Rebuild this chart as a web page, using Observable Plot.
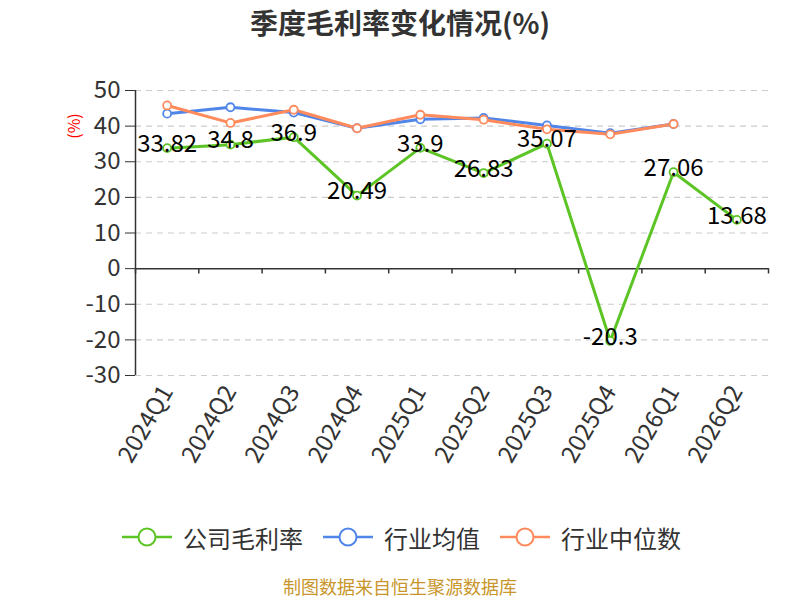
<!DOCTYPE html>
<html>
<head>
<meta charset="utf-8">
<script src="https://cdn.jsdelivr.net/npm/d3@7"></script>
<script src="https://cdn.jsdelivr.net/npm/@observablehq/plot@0.6"></script>
<style>
  body { margin: 0; width: 800px; height: 600px; background: #fff; position: relative; overflow: hidden;
         font-family: "Noto Sans CJK SC", "Noto Sans", sans-serif; }
  #title { position: absolute; left: 0; top: 0; width: 800px; height: 44px; line-height: 44px; text-align: center;
           font-size: 28px; font-weight: bold; color: #333; }
  #chart { position: absolute; left: 0; top: 50px; }
  #unit { position: absolute; left: 60px; top: 114px; color: red; font-size: 16px; transform: rotate(-90deg); transform-origin: center; width: 26px; text-align:center; }
  .leg { position: absolute; top: 520px; height: 34px; display: flex; align-items: center; font-size: 24px; color: #333; white-space: nowrap; }
  .leg svg { margin-right: 11px; }
  #caption { position: absolute; left: 0; top: 576px; width: 800px; height: 20px; line-height: 20px; text-align: center; font-size: 18px; color: #c8962a; }
</style>
</head>
<body>
<div id="title">季度毛利率变化情况(%)</div>
<div id="unit">(%)</div>
<div id="chart"></div>
<div id="legend"></div>
<div id="caption">制图数据来自恒生聚源数据库</div>
<script>
const quarters = ["2024Q1","2024Q2","2024Q3","2024Q4","2025Q1","2025Q2","2025Q3","2025Q4","2026Q1","2026Q2"];
const company = [33.82, 34.8, 36.9, 20.49, 33.9, 26.83, 35.07, -20.3, 27.06, 13.68];
const industryAvg = [43.5, 45.3, 43.8, 39.4, 41.9, 42.3, 40.2, 38.0, 40.6, null];
const industryMedian = [45.8, 40.9, 44.6, 39.4, 43.2, 41.8, 39.1, 37.7, 40.6, null];
const yTicks = [-30, -20, -10, 0, 10, 20, 30, 40, 50];
const seriesNames = ["公司毛利率", "行业均值", "行业中位数"];
const seriesColors = ["#5cc424", "#5085ea", "#ff8a5c"];

const idx = quarters.map((_, i) => i);
const boundaries = quarters.map((_, i) => i - 0.5).concat([quarters.length - 0.5]);
const mk = (arr, s) => arr.map((v, i) => ({i, q: quarters[i], v, s})).filter(d => d.v != null);
const rowsC = mk(company, seriesNames[0]);
const rowsA = mk(industryAvg, seriesNames[1]);
const rowsM = mk(industryMedian, seriesNames[2]);

const chart = Plot.plot({
  width: 800, height: 460,
  marginLeft: 135, marginRight: 32, marginTop: 40, marginBottom: 135,
  x: {type: "linear", domain: [-0.5, quarters.length - 0.5], axis: null},
  y: {domain: [-30, 50], axis: null},
  style: {fontFamily: '"Noto Sans CJK SC", "Noto Sans", sans-serif', fontSize: "24px", color: "#333", background: "transparent", overflow: "visible"},
  marks: [
    Plot.ruleY(yTicks.filter(t => t !== 0), {stroke: "#ccc", strokeDasharray: "6,5", strokeWidth: 1.2}),
    Plot.axisY(yTicks, {tickSize: 10, tickPadding: 5, tickFormat: d => String(d), stroke: "#333", fill: "#333", fontSize: 24, label: null}),
    Plot.ruleX([-0.5], {y1: -30, y2: 50, stroke: "#333", strokeWidth: 1.5}),
    Plot.ruleY([0], {stroke: "#333", strokeWidth: 1.5}),
    Plot.ruleX(boundaries, {y1: 0, y2: -1.5, stroke: "#333", strokeWidth: 1.5}),
    Plot.axisX(idx, {tickFormat: i => quarters[i], tickRotate: -60, tickSize: 0, tickPadding: 12, fontSize: 24, fill: "#333", label: null}),
    Plot.line(rowsC, {x: "i", y: "v", stroke: seriesColors[0], strokeWidth: 3}),
    Plot.line(rowsA, {x: "i", y: "v", stroke: seriesColors[1], strokeWidth: 3}),
    Plot.line(rowsM, {x: "i", y: "v", stroke: seriesColors[2], strokeWidth: 3}),
    Plot.dot(rowsC, {x: "i", y: "v", r: 4, fill: "white", stroke: seriesColors[0], strokeWidth: 1.8}),
    Plot.dot(rowsA, {x: "i", y: "v", r: 4, fill: "white", stroke: seriesColors[1], strokeWidth: 1.8}),
    Plot.dot(rowsM, {x: "i", y: "v", r: 4, fill: "white", stroke: seriesColors[2], strokeWidth: 1.8}),
    Plot.text(rowsC, {x: "i", y: "v", text: d => String(d.v), dy: -4, fill: "#000", fontSize: 24})
  ]
});
document.getElementById("chart").appendChild(chart);

const legendX = [122, 323, 500];
const legend = document.getElementById("legend");
seriesNames.forEach((name, k) => {
  const div = document.createElement("div");
  div.className = "leg";
  div.style.left = legendX[k] + "px";
  div.innerHTML = `<svg width="50" height="24"><line x1="0" y1="12" x2="50" y2="12" stroke="${seriesColors[k]}" stroke-width="2.5"/><circle cx="25" cy="12" r="8.5" fill="white" stroke="${seriesColors[k]}" stroke-width="2"/></svg><span>${name}</span>`;
  legend.appendChild(div);
});
</script>
</body>
</html>
